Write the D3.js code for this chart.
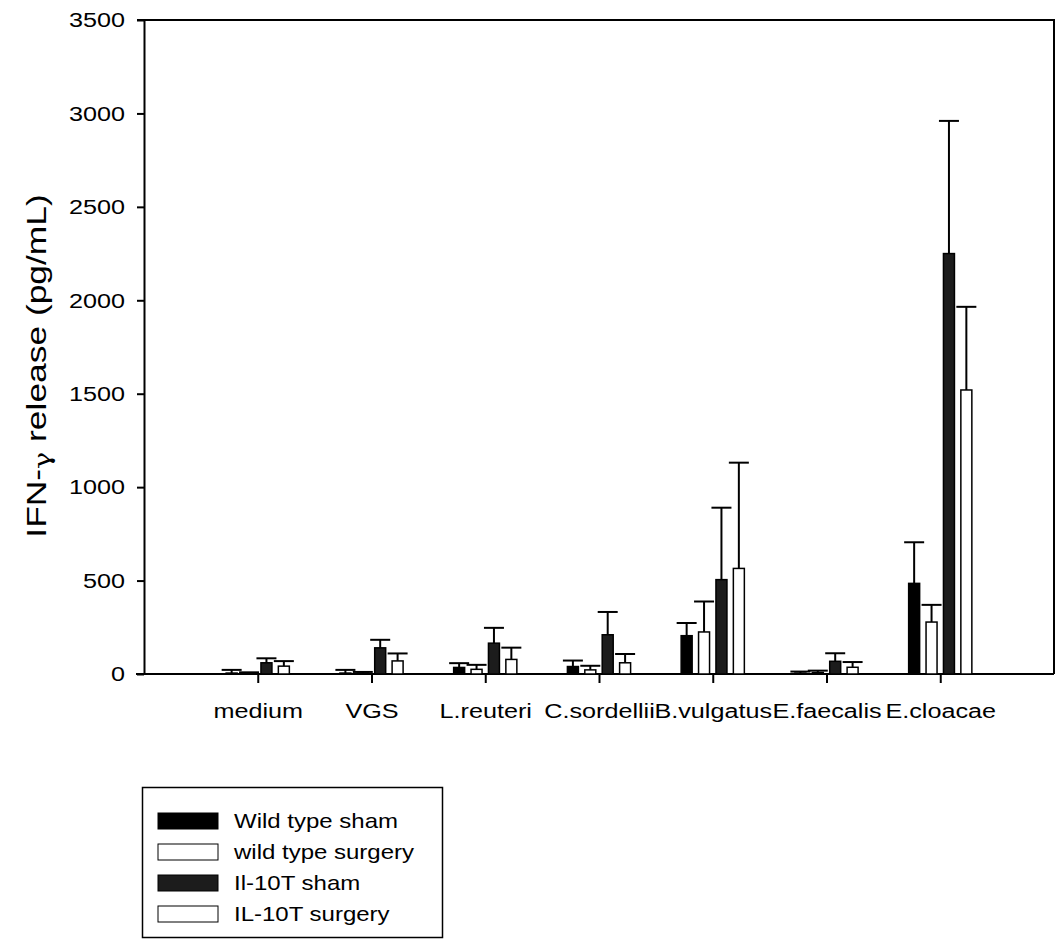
<!DOCTYPE html>
<html lang="en">
<head>
<meta charset="UTF-8">
<title>IFN-gamma release</title>
<script src="https://d3js.org/d3.v7.min.js"></script>
<style>
    body { margin: 0; background: #fff; font-family: "Liberation Sans", Arial, sans-serif; }
    svg text { fill: #000; }
    .axis path, .axis line { stroke: #000; stroke-width: 2px; }
</style>
</head>
<body>
<svg id="chart"></svg>
<script>
    const categories = ["medium", "VGS", "L.reuteri", "C.sordellii", "B.vulgatus", "E.faecalis", "E.cloacae"];
    const seriesNames = ["Wild type sham", "wild type surgery", "Il-10T sham", "IL-10T surgery"];
    const yTicks = [0, 500, 1000, 1500, 2000, 2500, 3000, 3500];

    // means
    const wtSham      = [5, 5, 35, 40, 205, 5, 485];
    const wtSurgery   = [4, 5, 25, 22, 225, 8, 278];
    const il10Sham    = [60, 140, 165, 210, 505, 68, 2250];
    const il10Surgery = [42, 70, 78, 60, 565, 36, 1520];
    // upper error (SEM)
    const wtShamErr      = [17, 17, 23, 32, 68, 8, 220];
    const wtSurgeryErr   = [5, 6, 24, 22, 163, 10, 92];
    const il10ShamErr    = [24, 43, 82, 122, 385, 43, 710];
    const il10SurgeryErr = [27, 40, 63, 47, 566, 28, 445];

    const means = [wtSham, wtSurgery, il10Sham, il10Surgery];
    const errs = [wtShamErr, wtSurgeryErr, il10ShamErr, il10SurgeryErr];
    const fills = ["#000", "#fff", "#1c1c1c", "#fff"];

    const width = 1057, height = 948;
    const plotL = 144, plotR = 1054, plotT = 20, plotB = 674;
    const sx = 1.2; // the original text is stretched sideways

    const svg = d3.select("#chart").attr("width", width).attr("height", height);

    const x = d3.scalePoint().domain(categories).range([plotL, plotR]).padding(1);
    const y = d3.scaleLinear().domain([0, 3500]).range([plotB, plotT]);
    const xs = d3.scaleBand().domain(seriesNames).range([-31.6, 31.6]).paddingInner(0.368);

    // frame (top + right)
    svg.append("path")
        .attr("d", `M${plotL - 7},${plotT}H${plotR}V${plotB}`)
        .attr("fill", "none").attr("stroke", "#000").attr("stroke-width", 2);

    // y axis
    const yAxis = svg.append("g").attr("class", "axis")
        .attr("transform", `translate(${plotL},0)`)
        .call(d3.axisLeft(y).tickValues(yTicks).tickFormat(d3.format("d"))
            .tickSize(7).tickPadding(11).tickSizeOuter(0));
    yAxis.selectAll("text")
        .attr("font-size", 21).attr("font-family", "Liberation Sans, Arial, sans-serif")
        .attr("transform", `scale(${sx},1)`).attr("x", -19 / sx);

    // x axis
    const xAxis = svg.append("g").attr("class", "axis")
        .attr("transform", `translate(0,${plotB})`)
        .call(d3.axisBottom(x).tickSize(9).tickPadding(20).tickSizeOuter(0));
    xAxis.select(".domain").attr("d", `M${plotL - 8},0H${plotR}`);
    xAxis.selectAll("text")
        .attr("font-size", 21).attr("font-family", "Liberation Sans, Arial, sans-serif")
        .attr("transform", `scale(${sx},1)`);

    // bars
    const rows = [];
    seriesNames.forEach((s, si) => categories.forEach((c, ci) => {
        rows.push({ s, si, c, v: means[si][ci], e: errs[si][ci] });
    }));

    const g = svg.append("g");
    const bw = xs.bandwidth();

    // error bars (upper only), drawn under bars
    const eb = g.selectAll(".err").data(rows).join("g").attr("class", "err")
        .attr("stroke", "#000").attr("stroke-width", 2);
    eb.append("line")
        .attr("x1", d => x(d.c) + xs(d.s) + bw / 2).attr("x2", d => x(d.c) + xs(d.s) + bw / 2)
        .attr("y1", d => y(d.v)).attr("y2", d => y(d.v + d.e));
    eb.append("line")
        .attr("x1", d => x(d.c) + xs(d.s) + bw / 2 - 10).attr("x2", d => x(d.c) + xs(d.s) + bw / 2 + 10)
        .attr("y1", d => y(d.v + d.e)).attr("y2", d => y(d.v + d.e));

    g.selectAll(".bar").data(rows).join("rect").attr("class", "bar")
        .attr("x", d => x(d.c) + xs(d.s))
        .attr("width", bw)
        .attr("y", d => y(d.v))
        .attr("height", d => y(0) - y(d.v))
        .attr("fill", d => fills[d.si])
        .attr("stroke", "#000").attr("stroke-width", 1.5);

    // y label
    const yl = svg.append("text")
        .attr("transform", "translate(46,366) rotate(-90) scale(1.31,1)")
        .attr("text-anchor", "middle")
        .attr("font-size", 27);
    yl.append("tspan").text("IFN-");
    yl.append("tspan").attr("font-size", 22).attr("font-family", "DejaVu Serif, serif").attr("dy", 4).text("γ");
    yl.append("tspan").attr("dy", -4).text(" release (pg/mL)");

    // legend
    const lg = svg.append("g");
    lg.append("rect")
        .attr("x", 142.5).attr("y", 787.5).attr("width", 300).attr("height", 150)
        .attr("fill", "none").attr("stroke", "#000").attr("stroke-width", 1.5);
    const item = lg.selectAll(".item").data(seriesNames).join("g").attr("class", "item")
        .attr("transform", (d, i) => `translate(158,${821 + i * 31})`);
    item.append("rect")
        .attr("x", 0).attr("y", -8).attr("width", 60).attr("height", 16)
        .attr("fill", (d, i) => fills[i]).attr("stroke", "#000").attr("stroke-width", 1);
    item.append("text")
        .attr("transform", `translate(76,7) scale(${sx},1)`)
        .attr("font-size", 20)
        .text(d => d);
</script>
</body>
</html>
